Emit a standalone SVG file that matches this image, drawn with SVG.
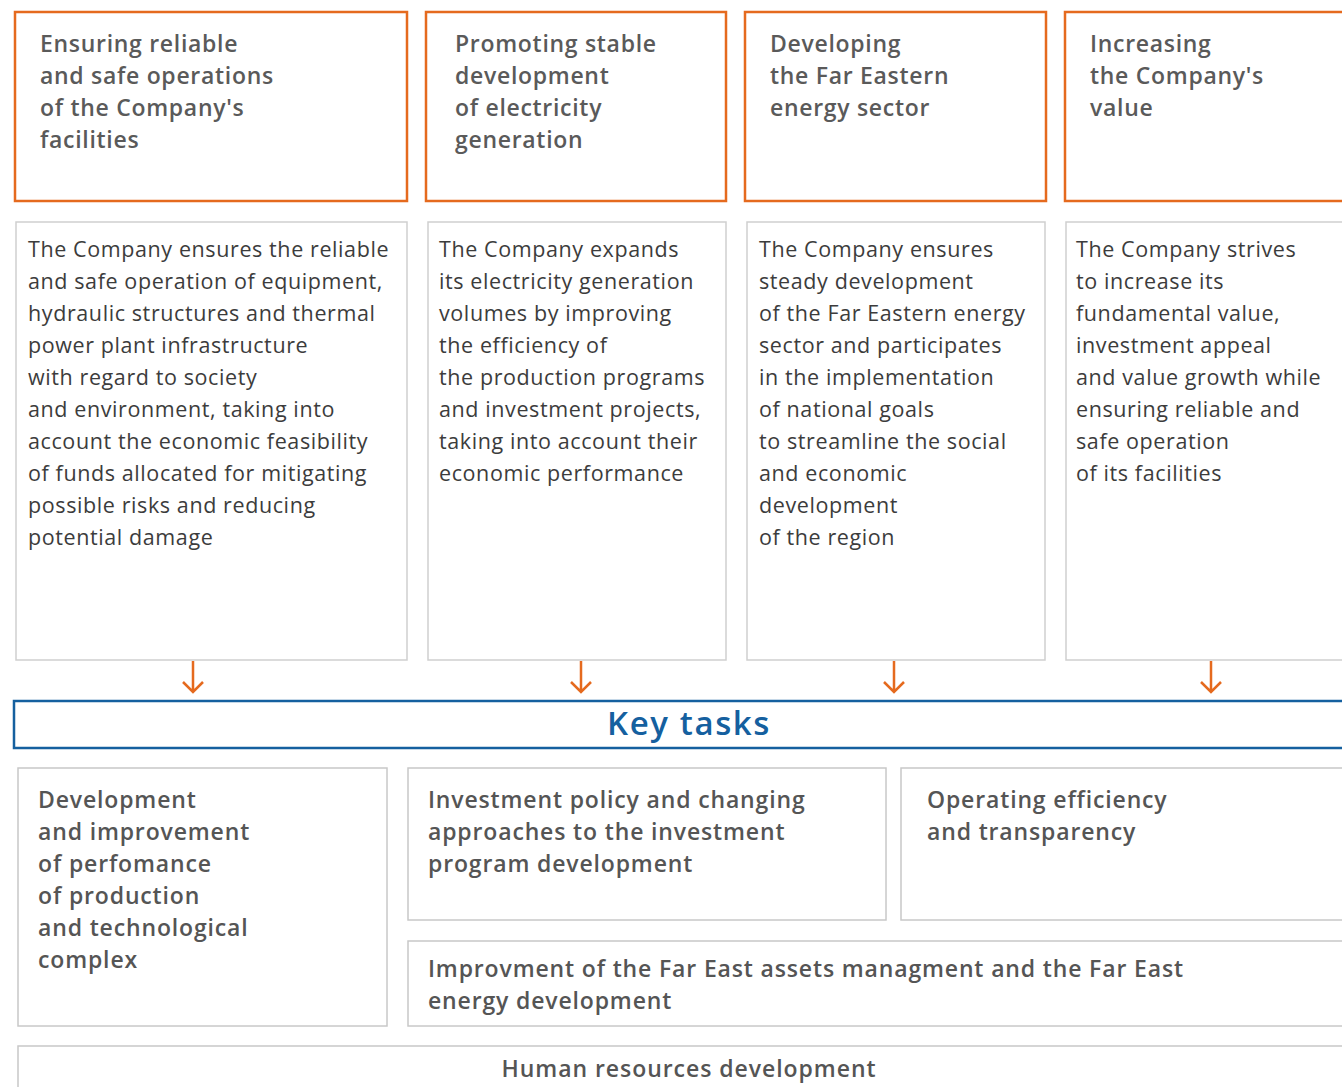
<svg xmlns="http://www.w3.org/2000/svg" width="1342" height="1087" viewBox="0 0 1342 1087">
<defs>
<style>
.goal{fill:#fff;stroke:#e56a1e;stroke-width:2.5}
.desc{fill:#fff;stroke:#cfcfcf;stroke-width:1.5}
.task{fill:#fff;stroke:#c8c8c8;stroke-width:1.5}
.key{fill:#fff;stroke:#15609f;stroke-width:2.5}
.t-goal{font-family:"Open Sans","Liberation Sans",sans-serif;font-size:23px;font-weight:600;fill:#5a5a5a;letter-spacing:0.7px}
.t-desc{font-family:"Open Sans","Liberation Sans",sans-serif;font-size:21.5px;fill:#3c3c3c;letter-spacing:0.6px}
.t-task{font-family:"Open Sans","Liberation Sans",sans-serif;font-size:23px;font-weight:600;fill:#555;letter-spacing:0.85px}
.t-task5{letter-spacing:0.95px}
.t-key{font-family:"Open Sans","Liberation Sans",sans-serif;font-size:33px;font-weight:600;fill:#15609f;letter-spacing:1.6px}
.arrow{stroke:#e56a1e;stroke-width:2.5;fill:none}
</style>
</defs>
<rect width="1342" height="1087" fill="#fff"/>

<g id="goal1">
<rect class="goal" x="15" y="12" width="392" height="189"/>
<text class="t-goal"><tspan x="40" y="52">Ensuring reliable</tspan><tspan x="40" y="84">and safe operations</tspan><tspan x="40" y="116">of the Company's</tspan><tspan x="40" y="148">facilities</tspan></text>
</g>
<g id="goal2">
<rect class="goal" x="426" y="12" width="300" height="189"/>
<text class="t-goal"><tspan x="455" y="52">Promoting stable</tspan><tspan x="455" y="84">development</tspan><tspan x="455" y="116">of electricity</tspan><tspan x="455" y="148">generation</tspan></text>
</g>
<g id="goal3">
<rect class="goal" x="745" y="12" width="301" height="189"/>
<text class="t-goal"><tspan x="770" y="52">Developing</tspan><tspan x="770" y="84">the Far Eastern</tspan><tspan x="770" y="116">energy sector</tspan></text>
</g>
<g id="goal4">
<rect class="goal" x="1065" y="12" width="300" height="189"/>
<text class="t-goal"><tspan x="1090" y="52">Increasing</tspan><tspan x="1090" y="84">the Company's</tspan><tspan x="1090" y="116">value</tspan></text>
</g>

<g id="desc1">
<rect class="desc" x="16" y="222" width="391" height="438"/>
<text class="t-desc"><tspan x="28" y="257">The Company ensures the reliable</tspan><tspan x="28" y="289">and safe operation of equipment,</tspan><tspan x="28" y="321">hydraulic structures and thermal</tspan><tspan x="28" y="353">power plant infrastructure</tspan><tspan x="28" y="385">with regard to society</tspan><tspan x="28" y="417">and environment, taking into</tspan><tspan x="28" y="449">account the economic feasibility</tspan><tspan x="28" y="481">of funds allocated for mitigating</tspan><tspan x="28" y="513">possible risks and reducing</tspan><tspan x="28" y="545">potential damage</tspan></text>
</g>
<g id="desc2">
<rect class="desc" x="428" y="222" width="298" height="438"/>
<text class="t-desc"><tspan x="439" y="257">The Company expands</tspan><tspan x="439" y="289">its electricity generation</tspan><tspan x="439" y="321">volumes by improving</tspan><tspan x="439" y="353">the efficiency of</tspan><tspan x="439" y="385">the production programs</tspan><tspan x="439" y="417">and investment projects,</tspan><tspan x="439" y="449">taking into account their</tspan><tspan x="439" y="481">economic performance</tspan></text>
</g>
<g id="desc3">
<rect class="desc" x="747" y="222" width="298" height="438"/>
<text class="t-desc"><tspan x="759" y="257">The Company ensures</tspan><tspan x="759" y="289">steady development</tspan><tspan x="759" y="321">of the Far Eastern energy</tspan><tspan x="759" y="353">sector and participates</tspan><tspan x="759" y="385">in the implementation</tspan><tspan x="759" y="417">of national goals</tspan><tspan x="759" y="449">to streamline the social</tspan><tspan x="759" y="481">and economic</tspan><tspan x="759" y="513">development</tspan><tspan x="759" y="545">of the region</tspan></text>
</g>
<g id="desc4">
<rect class="desc" x="1066" y="222" width="300" height="438"/>
<text class="t-desc"><tspan x="1076" y="257">The Company strives</tspan><tspan x="1076" y="289">to increase its</tspan><tspan x="1076" y="321">fundamental value,</tspan><tspan x="1076" y="353">investment appeal</tspan><tspan x="1076" y="385">and value growth while</tspan><tspan x="1076" y="417">ensuring reliable and</tspan><tspan x="1076" y="449">safe operation</tspan><tspan x="1076" y="481">of its facilities</tspan></text>
</g>

<g id="connectors">
<path class="arrow" d="M193 661V691M183 682L193 692L203 682"/>
<path class="arrow" d="M581 661V691M571 682L581 692L591 682"/>
<path class="arrow" d="M894 661V691M884 682L894 692L904 682"/>
<path class="arrow" d="M1211 661V691M1201 682L1211 692L1221 682"/>
</g>

<g id="keytasks">
<rect class="key" x="14" y="701" width="1340" height="47"/>
<text class="t-key" x="689" y="735" text-anchor="middle">Key tasks</text>
</g>

<g id="task1">
<rect class="task" x="18" y="768" width="369" height="258"/>
<text class="t-task"><tspan x="38" y="808">Development</tspan><tspan x="38" y="840">and improvement</tspan><tspan x="38" y="872">of perfomance</tspan><tspan x="38" y="904">of production</tspan><tspan x="38" y="936">and technological</tspan><tspan x="38" y="968">complex</tspan></text>
</g>
<g id="task2">
<rect class="task" x="408" y="768" width="478" height="152"/>
<text class="t-task"><tspan x="428" y="808">Investment policy and changing</tspan><tspan x="428" y="840">approaches to the investment</tspan><tspan x="428" y="872">program development</tspan></text>
</g>
<g id="task3">
<rect class="task" x="901" y="768" width="450" height="152"/>
<text class="t-task"><tspan x="927" y="808">Operating efficiency</tspan><tspan x="927" y="840">and transparency</tspan></text>
</g>
<g id="task4">
<rect class="task" x="408" y="941" width="950" height="85"/>
<text class="t-task"><tspan x="428" y="977">Improvment of the Far East assets managment and the Far East</tspan><tspan x="428" y="1009">energy development</tspan></text>
</g>
<g id="task5">
<rect class="task" x="18" y="1046" width="1340" height="60"/>
<text class="t-task t-task5" x="689" y="1077" text-anchor="middle">Human resources development</text>
</g>
</svg>
